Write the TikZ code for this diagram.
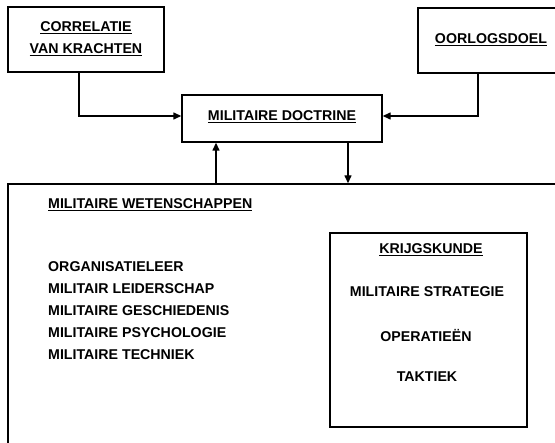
\documentclass[tikz,border=0pt]{standalone}
\usepackage{fontspec}
\setmainfont{Liberation Sans}
\usetikzlibrary{arrows.meta}
\begin{document}
\begin{tikzpicture}[x=1pt,y=-1pt,
  box/.style={draw,line width=1.4pt,rectangle,inner sep=0pt},
  txt/.style={font=\fontsize{14.2}{16}\selectfont\bfseries,inner sep=0pt},
  lst/.style={txt,anchor=west},
  arr/.style={line width=1.4pt,-{Triangle[length=8pt,width=7pt]}},
  ln/.style={line width=1.4pt}]
\useasboundingbox (0,0) rectangle (555,443);
\clip (0,0) rectangle (555,443);
\fill[white] (0,0) rectangle (555,443);
% boxes
\node[box,minimum width=156pt,minimum height=65pt] (corr) at (86,39.5) {};
\node[box,minimum width=147pt,minimum height=65pt] (oorl) at (491.5,40.5) {};
\node[box,minimum width=200pt,minimum height=47pt] (doc) at (282,118.5) {};
\node[box,minimum width=557pt,minimum height=266pt] (wet) at (286.5,317) {};
\node[box,minimum width=197pt,minimum height=194pt] (kk) at (428.5,330) {};
% texts
\node[txt] (t1) at (86,28) {\underline{CORRELATIE}};
\node[txt] (t2) at (86,50) {\underline{VAN KRACHTEN}};
\node[txt] (t3) at (491,40) {\underline{OORLOGSDOEL}};
\node[txt] (t4) at (282,117) {\underline{MILITAIRE DOCTRINE}};
\node[lst] (w0) at (48,205) {\underline{MILITAIRE WETENSCHAPPEN}};
\node[lst] (w1) at (48,267) {ORGANISATIELEER};
\node[lst] (w2) at (48,289) {MILITAIR LEIDERSCHAP};
\node[lst] (w3) at (48,311) {MILITAIRE GESCHIEDENIS};
\node[lst] (w4) at (48,333) {MILITAIRE PSYCHOLOGIE};
\node[lst] (w5) at (48,355) {MILITAIRE TECHNIEK};
\node[txt] (k0) at (431,250) {\underline{KRIJGSKUNDE}};
\node[txt] (k1) at (427,292) {MILITAIRE STRATEGIE};
\node[txt] (k2) at (426,336) {OPERATIEËN};
\node[txt] (k3) at (427,377) {TAKTIEK};
% connectors
\coordinate (ca) at (79,116);
\coordinate (oa) at (478,116);
\coordinate (up) at (216,0);
\coordinate (dn) at (348,0);
\draw[arr] (corr.south -| ca) |- (doc.west |- ca);
\draw[arr] (oorl.south -| oa) |- (doc.east |- oa);
\draw[arr] (wet.north -| up) -- (doc.south -| up);
\draw[arr] (doc.south -| dn) -- (wet.north -| dn);
\end{tikzpicture}
\end{document}
